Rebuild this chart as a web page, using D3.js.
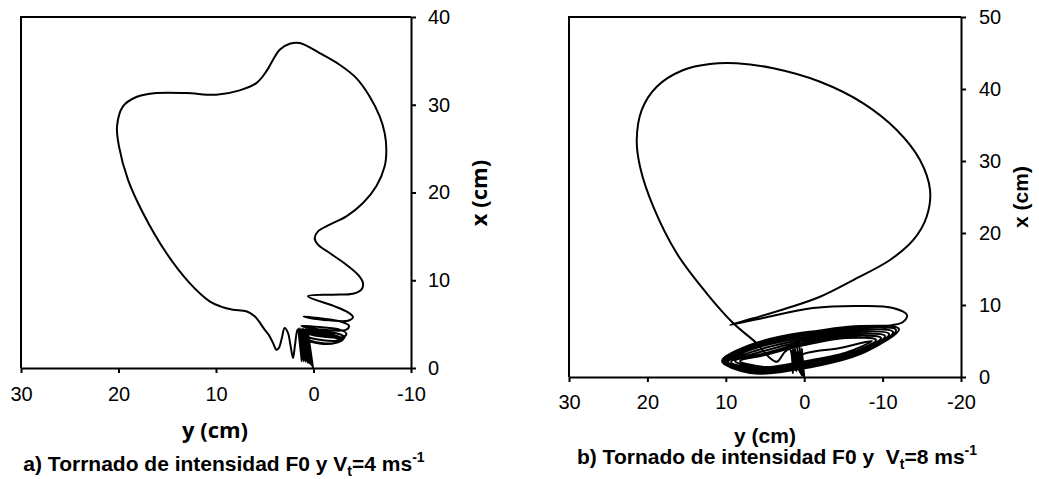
<!DOCTYPE html>
<html>
<head>
<meta charset="utf-8">
<script src="https://cdn.jsdelivr.net/npm/d3@7"></script>
<style>
body { margin: 0; background: #fff; }
svg { display: block; font-family: "Liberation Sans", Arial, sans-serif; }
</style>
</head>
<body>
<svg id="chart" width="1039" height="479"></svg>
<script>
// trajectory a) Vt = 4 m/s, pairs are [y (cm), x (cm)]
var trajA = [
	[0.05,0],[0.6,4.4],[0.15,0.2],[0.8,4.5],[0.3,0.4],[1.0,4.5],[0.45,0.5],[1.15,4.5],[0.6,0.6],[1.3,4.5],
	[0.8,0.7],[1.45,4.5],[1.0,0.75],[1.55,4.5],[1.2,0.8],[1.65,4.4],
	[1.9,2.6],[2.1,1.14],[2.35,2.5],[2.62,4.0],[2.96,4.56],[3.25,3.4],[3.55,2.3],[3.81,2.09],[4.15,2.85],
	[4.6,3.8],[5.01,4.37],[6.03,5.89],[6.89,6.46],[8.26,6.65],[9.5,7.0],[10.65,7.6],[12.7,9.68],[15.09,13.1],
	[17.49,17.66],[19.03,21.46],[19.95,25.26],[20.15,27.54],[19.54,29.81],[18.17,30.88],[16.12,31.33],
	[13.04,31.33],[9.97,31.14],[7.57,31.64],[5.86,32.47],[4.84,33.8],[4.15,35.13],[3.47,36.27],[2.44,36.95],
	[1.42,37.03],[-0.63,35.89],[-2.68,34.56],[-4.39,33.04],[-5.76,30.95],[-6.79,28.67],[-7.3,26.78],
	[-7.47,24.88],[-7.3,22.98],[-6.44,20.7],[-5.08,18.8],[-3.37,17.28],[-1.66,16.33],[-0.46,15.57],
	[-0.12,14.81],[-0.46,14.05],[-1.66,13.1],[-3.37,11.77],[-4.56,10.63],[-5.08,9.68],[-4.91,8.93],
	[-4.05,8.47],[-2.0,8.36],[0.56,8.17],
	[-2.0,7.10],[-3.54,6.34],[-4.05,5.81],[-3.54,5.39],[-1.66,5.43],[0.39,5.70],[1.01,5.89],
	[-0.63,5.66],[-2.68,5.32],[-3.64,4.82],[-3.37,4.37],[-1.66,4.29],[0.39,4.56],[1.25,4.82],
	[-0.63,4.67],[-2.68,4.37],[-3.37,3.91],[-3.03,3.53],[-1.32,3.53],[0.74,3.99],[1.25,4.37],
	[-0.63,4.18],[-2.51,3.91],[-3.2,3.53],[-2.68,3.15],[-0.97,3.15],[0.91,3.68],[1.25,4.18],
	[-0.63,3.99],[-2.34,3.68],[-3.03,3.30],[-2.51,2.92],[-0.8,2.85],[0.91,3.42],[1.25,3.99],
	[-0.63,3.87],[-2.17,3.6],[-2.85,3.25],[-2.4,2.9],[-0.8,2.8],[0.9,3.4],[1.2,3.9],
	[-0.6,3.8],[-2.1,3.55],[-2.75,3.2],[-2.3,2.88],[-0.7,2.8],[0.9,3.35],[1.2,3.85],
	[-0.55,3.75],[-2.0,3.5],[-2.65,3.15],[-2.2,2.85],[-0.6,2.8],[0.9,3.3],[1.15,3.8]
];

// trajectory b) Vt = 8 m/s
var trajB = [
	[0.0,0.0],[0.3,4.0],[0.15,0.3],[0.6,4.2],[0.3,0.6],[0.9,4.1],[0.5,0.9],[1.2,4.0],[0.7,1.2],[1.4,3.9],
	[1.0,0.8],[1.5,3.7],[1.43,0.56],[1.81,3.85],[2.45,3.51],[3.47,2.12],[4.36,2.64],
	[6.06,4.68],[9.04,7.46],[12.44,11.63],[16.26,17.18],[19.25,23.65],[20.94,29.21],[21.36,32.92],
	[20.73,37.08],[18.81,40.32],[15.42,42.64],[12.02,43.47],[8.61,43.57],[3.94,42.88],[-2.02,41.01],
	[-7.54,38.01],[-11.8,34.31],[-14.77,30.14],[-16.05,25.97],[-15.62,22.26],[-13.92,19.03],[-10.94,16.25],
	[-6.26,13.47],[-2.02,11.15],[2.23,9.54],[6.49,8.15],[9.46,7.22],
	[5.26,8.2],[-1.12,9.58],[-7.5,9.86],[-11.33,9.58],[-13.11,8.61],[-12.6,7.64],[-11.33,7.22],[-7.5,6.81],
	[0.54,6.11],[6.91,4.44],[10.48,2.22],
	[6.91,0.56],[0.54,1.11],[-7.76,3.47],[-12.09,6.67],
	[-7.12,7.08],[0.54,5.97],[6.66,4.31],[10.36,2.08],
	[6.66,0.69],[0.54,1.25],[-7.37,3.33],[-11.71,6.53],
	[-6.86,6.81],[0.54,5.69],[6.4,4.17],[10.23,2.08],
	[6.4,0.83],[0.54,1.39],[-7.12,3.33],[-11.33,6.25],
	[-6.48,6.53],[0.54,5.42],[6.15,4.03],[9.97,2.08],
	[6.15,0.83],[0.54,1.53],[-6.73,3.19],[-10.82,5.97],
	[-6.1,6.25],[0.54,5.14],[5.89,3.75],[9.72,2.08],
	[5.89,0.97],[0.54,1.67],[-6.35,3.19],[-10.31,5.69],
	[-5.84,5.97],[0.54,4.86],[5.64,3.47],[9.34,2.08],
	[5.64,1.11],[0.54,1.81],[-5.84,3.19],[-9.8,5.42],
	[-5.59,5.69],[0.54,4.58],[5.38,3.19],[8.83,2.22],
	[5.38,1.25],[0.54,1.94],[-5.59,3.19],[-9.16,5.14],
	[-5.33,5.42],[0.54,4.31],[5.0,3.06],[8.19,2.22],
	[5.0,1.39],[0.54,2.08],[-5.2,3.33],[-8.65,5.0],
	[-4.57,4.03],[0.54,2.92],[0.8,1.5],[0.2,0.1]
];

var ticksAy = [30, 20, 10, 0, -10],
    ticksAx = [0, 10, 20, 30, 40];
var ticksBy = [30, 20, 10, 0, -10, -20],
    ticksBx = [0, 10, 20, 30, 40, 50];

var svg = d3.select("#chart");

var panels = [
	{
		data: trajA, yTicks: ticksAy, xTicks: ticksAx,
		left: 21, right: 411, top: 17, bottom: 368,
		hPad: 14, vPad: 12,
		titleFont: "'Open Sans', sans-serif", titleSize: 22,
		yTitle: [215, 438], xTitle: [487, 193],
		caption: ["a) Torrnado de intensidad F0 y V", "t", "=4 ms", "-1"], capPos: [224, 471]
	},
	{
		data: trajB, yTicks: ticksBy, xTicks: ticksBx,
		left: 569, right: 961, top: 17, bottom: 377,
		hPad: 13, vPad: 13,
		titleFont: "'Liberation Sans', Arial, sans-serif", titleSize: 21,
		yTitle: [765, 443], xTitle: [1028, 197],
		caption: ["b) Tornado de intensidad F0 y\u00a0 V", "t", "=8 ms", "-1"], capPos: [777, 464]
	}
];

panels.forEach(function(p) {
	var yScale = d3.scaleLinear()
	  .domain([d3.max(p.yTicks), d3.min(p.yTicks)])
	  .range([p.left, p.right]);
	var xScale = d3.scaleLinear()
	  .domain([0, d3.max(p.xTicks)])
	  .range([p.bottom, p.top]);

	var g = svg.append("g");

	// frame on the left and top
	g.append("path")
	  .attr("d", "M" + p.right + "," + p.top + "H" + p.left + "V" + p.bottom)
	  .style("fill", "none").style("stroke", "#000").style("stroke-width", 2);

	// plain hyphen for negatives, like the original
	var fmt = function(d) { return String(d); };

	var bottomAxis = g.append("g")
	  .attr("transform", "translate(0," + p.bottom + ")")
	  .call(d3.axisBottom(yScale).tickValues(p.yTicks).tickFormat(fmt)
	    .tickSize(5).tickSizeOuter(0).tickPadding(p.hPad));
	var rightAxis = g.append("g")
	  .attr("transform", "translate(" + p.right + ",0)")
	  .call(d3.axisRight(xScale).tickValues(p.xTicks).tickFormat(fmt)
	    .tickSize(5).tickSizeOuter(0).tickPadding(p.vPad));

	[bottomAxis, rightAxis].forEach(function(ax) {
		ax.select(".domain").style("stroke", "#000").style("stroke-width", 2);
		ax.selectAll(".tick line").style("stroke", "#000").style("stroke-width", 2);
		ax.selectAll(".tick text")
		  .style("font-family", "'Liberation Sans', Arial, sans-serif")
		  .style("font-size", "20px").style("fill", "#000");
	});

	var line = d3.line()
	  .x(function(d) { return yScale(d[0]); })
	  .y(function(d) { return xScale(d[1]); })
	  .curve(d3.curveCatmullRom.alpha(0.5));

	g.append("path")
	  .datum(p.data)
	  .attr("d", line)
	  .style("fill", "none")
	  .style("stroke", "#000")
	  .style("stroke-width", 2)
	  .style("stroke-linejoin", "round");

	g.append("text")
	  .attr("x", p.yTitle[0]).attr("y", p.yTitle[1])
	  .attr("text-anchor", "middle")
	  .style("font-family", p.titleFont).style("font-weight", "bold")
	  .style("font-size", p.titleSize + "px")
	  .text("y (cm)");

	g.append("text")
	  .attr("transform", "translate(" + p.xTitle[0] + "," + p.xTitle[1] + ") rotate(-90)")
	  .attr("text-anchor", "middle")
	  .style("font-family", p.titleFont).style("font-weight", "bold")
	  .style("font-size", p.titleSize + "px")
	  .text("x (cm)");

	var cap = g.append("text")
	  .attr("x", p.capPos[0]).attr("y", p.capPos[1])
	  .attr("text-anchor", "middle")
	  .style("font-family", "'Liberation Sans', Arial, sans-serif")
	  .style("font-weight", "bold").style("font-size", "21px");
	cap.append("tspan").text(p.caption[0]);
	cap.append("tspan").attr("dy", 5).style("font-size", "14px").text(p.caption[1]);
	cap.append("tspan").attr("dy", -5).text(p.caption[2]);
	cap.append("tspan").attr("dy", -9).style("font-size", "14px").text(p.caption[3]);
});
</script>
</body>
</html>
